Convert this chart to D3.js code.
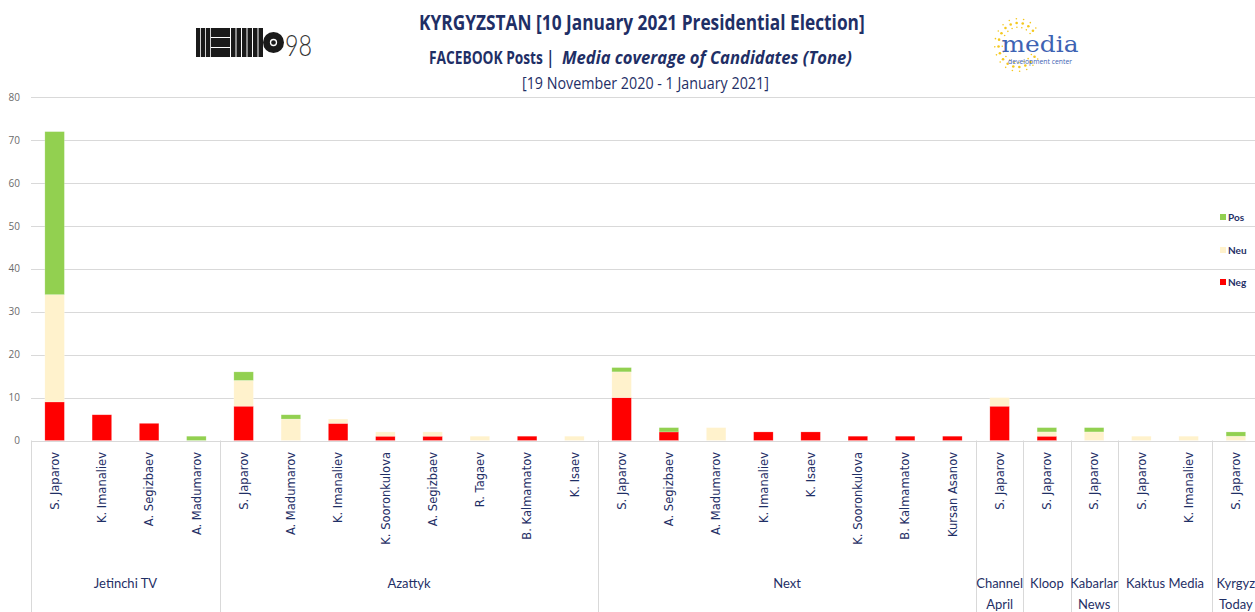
<!DOCTYPE html>
<html>
<head>
<meta charset="utf-8">
<script src="https://cdn.jsdelivr.net/npm/d3@7"></script>
<style>
  html, body { margin: 0; padding: 0; background: #fff; }
  svg { display: block; }
</style>
</head>
<body>
<div id="chart"></div>
<script>
// ---------------- DATA ----------------
const candidates = [
  "S. Japarov", "K. Imanaliev", "A. Segizbaev", "A. Madumarov",
  "S. Japarov", "A. Madumarov", "K. Imanaliev", "K. Sooronkulova", "A. Segizbaev", "R. Tagaev", "B. Kalmamatov", "K. Isaev",
  "S. Japarov", "A. Segizbaev", "A. Madumarov", "K. Imanaliev", "K. Isaev", "K. Sooronkulova", "B. Kalmamatov", "Kursan Asanov",
  "S. Japarov",
  "S. Japarov",
  "S. Japarov",
  "S. Japarov", "K. Imanaliev",
  "S. Japarov"
];
const outlets = [
  "Jetinchi TV","Jetinchi TV","Jetinchi TV","Jetinchi TV",
  "Azattyk","Azattyk","Azattyk","Azattyk","Azattyk","Azattyk","Azattyk","Azattyk",
  "Next","Next","Next","Next","Next","Next","Next","Next",
  "Channel April",
  "Kloop",
  "Kabarlar News",
  "Kaktus Media","Kaktus Media",
  "Kyrgyz Today"
];
const outletLabels = {
  "Jetinchi TV": ["Jetinchi TV"],
  "Azattyk": ["Azattyk"],
  "Next": ["Next"],
  "Channel April": ["Channel", "April"],
  "Kloop": ["Kloop"],
  "Kabarlar News": ["Kabarlar", "News"],
  "Kaktus Media": ["Kaktus Media"],
  "Kyrgyz Today": ["Kyrgyz", "Today"]
};
const neg = [9, 6, 4, 0,  8, 0, 4, 1, 1, 0, 1, 0,  10, 2, 0, 2, 2, 1, 1, 1,  8,  1,  0,  0, 0,  0];
const neu = [25, 0, 0, 0, 6, 5, 1, 1, 1, 1, 0, 1,  6, 0, 3, 0, 0, 0, 0, 0,   2,  1,  2,  1, 1,  1];
const pos = [38, 0, 0, 1, 2, 1, 0, 0, 0, 0, 0, 0,  1, 1, 0, 0, 0, 0, 0, 0,   0,  1,  1,  0, 0,  1];
const seriesNames = ["Neg", "Neu", "Pos"];
const yTicks = [0, 10, 20, 30, 40, 50, 60, 70, 80];
const titleLines = [
  "KYRGYZSTAN [10 January 2021 Presidential Election]",
  "FACEBOOK Posts |",
  "Media coverage of Candidates (Tone)",
  "[19 November 2020 - 1 January 2021]"
];

// ---------------- LAYOUT ----------------
const W = 1255, H = 612;
const colors = { Neg: "#FF0000", Neu: "#FFF2CC", Pos: "#92D050" };
const navy = "#1F2F66";

const svg = d3.select("#chart").append("svg")
  .attr("width", W).attr("height", H)
  .style("font-family", "'Open Sans', 'Noto Sans', sans-serif");

svg.append("rect").attr("width", W).attr("height", H).attr("fill", "#fff");

const x = d3.scaleBand()
  .domain(d3.range(candidates.length))
  .range([31, 1259.5])
  .paddingInner(0.587)
  .paddingOuter(0.2935);
const step = x.step();

const y = d3.scaleLinear().domain([0, 80]).range([440.5, 97.3]);

// gridlines
svg.append("g").selectAll("line").data(yTicks).join("line")
  .attr("x1", 31).attr("x2", W)
  .attr("y1", d => Math.round(y(d)) + 0.5).attr("y2", d => Math.round(y(d)) + 0.5)
  .attr("stroke", "#D9D9D9").attr("stroke-width", 1);

// y tick labels
svg.append("g").selectAll("text").data(yTicks).join("text")
  .attr("x", 20).attr("y", d => y(d)).attr("dy", "0.35em")
  .attr("text-anchor", "end")
  .attr("font-size", 10).attr("fill", "#6b6b6b")
  .text(d => d);

// stacked bars
const rows = candidates.map((c, i) => ({ i, Neg: neg[i], Neu: neu[i], Pos: pos[i] }));
const stack = d3.stack().keys(seriesNames)(rows);
svg.append("g").selectAll("g").data(stack).join("g")
  .attr("fill", d => colors[d.key])
  .selectAll("rect").data(d => d.filter(s => s[1] - s[0] > 0)).join("rect")
  .attr("x", d => x(d.data.i))
  .attr("width", x.bandwidth())
  .attr("y", d => y(d[1]))
  .attr("height", d => y(d[0]) - y(d[1]))
  .attr("stroke", "#fff").attr("stroke-opacity", 0.35).attr("stroke-width", 0.6);

// group separators
const groups = [];
outlets.forEach((o, i) => {
  if (!groups.length || groups[groups.length - 1].name !== o) groups.push({ name: o, start: i, end: i });
  else groups[groups.length - 1].end = i;
});
const sepXs = groups.map(g => x(g.start) - (step - x.bandwidth()) / 2);
svg.append("g").selectAll("line").data(sepXs).join("line")
  .attr("x1", d => Math.round(d) + 0.5).attr("x2", d => Math.round(d) + 0.5)
  .attr("y1", 440.5).attr("y2", H)
  .attr("stroke", "#D9D9D9").attr("stroke-width", 1);

// candidate labels (rotated)
svg.append("g").selectAll("text").data(candidates).join("text")
  .attr("transform", (d, i) => `translate(${x(i) + x.bandwidth() / 2},452) rotate(-90)`)
  .attr("text-anchor", "end").attr("dy", "0.36em")
  .attr("font-family", "'DejaVu Sans', sans-serif")
  .attr("font-size", 11.5).attr("fill", navy)
  .text(d => d);

// outlet labels
const gl = svg.append("g");
groups.forEach(g => {
  const cx = (x(g.start) + x(g.end) + x.bandwidth()) / 2;
  const lines = outletLabels[g.name];
  const t = gl.append("text").attr("text-anchor", "middle")
    .attr("font-family", "'Liberation Sans Narrow', 'Lato', sans-serif")
    .attr("font-size", 13).attr("fill", navy);
  lines.forEach((ln, k) => {
    t.append("tspan").attr("x", cx).attr("y", 588 + k * 21).text(ln);
  });
});

// legend
const legendItems = [["Pos", 217], ["Neu", 250], ["Neg", 282]];
const lg = svg.append("g");
legendItems.forEach(([k, ly]) => {
  lg.append("rect").attr("x", 1220).attr("y", ly - 3).attr("width", 6).attr("height", 6).attr("fill", colors[k]);
  lg.append("text").attr("x", 1228).attr("y", ly).attr("dy", "0.35em")
    .attr("font-family", "'Liberation Sans Narrow', 'Lato', sans-serif")
    .attr("font-size", 10).attr("font-weight", "bold").attr("fill", navy).text(k);
});

// helper: text squeezed horizontally to a target width via transform
function fitText(str, left, baseline, width, attrs) {
  const t = svg.append("text").attr("x", 0).attr("y", 0).attr("fill", navy);
  Object.entries(attrs).forEach(([k, v]) => t.attr(k, v));
  t.text(str);
  const nat = t.node().getComputedTextLength();
  const sx = width / nat;
  t.attr("transform", `translate(${left},${baseline}) scale(${sx},1)`);
  return t;
}

// titles
fitText(titleLines[0], 419, 30, 446, { "font-size": 22, "font-weight": "bold" });
fitText(titleLines[1], 429, 64, 125, { "font-size": 18, "font-weight": "bold" });
fitText(titleLines[2], 562, 64, 290, { "font-size": 18, "font-weight": "bold", "font-style": "italic" });
fitText(titleLines[3], 522, 89, 247, { "font-size": 17 });

// MEMO98 logo
const logo = svg.append("g").attr("fill", "#1a1a1a");
[196, 201, 206].forEach(bx => logo.append("rect").attr("x", bx).attr("y", 28).attr("width", 4.2).attr("height", 29));
[28, 38, 48].forEach(by => logo.append("rect").attr("x", 211).attr("y", by).attr("width", 19).attr("height", 9));
[231, 236.5, 242, 247.5, 253, 258.5].forEach(bx => logo.append("rect").attr("x", bx).attr("y", 28).attr("width", 4.5).attr("height", 29));
logo.append("circle").attr("cx", 273.5).attr("cy", 42.5).attr("r", 10.5);
logo.append("circle").attr("cx", 273.5).attr("cy", 42.5).attr("r", 3).attr("fill", "none").attr("stroke", "#fff").attr("stroke-width", 1.3);
svg.append("text").attr("x", 285).attr("y", 56).attr("font-size", 29).attr("font-weight", 300)
  .attr("font-family", "'Lato', sans-serif").attr("fill", "#333")
  .attr("textLength", 27).attr("lengthAdjust", "spacingAndGlyphs").text("98");

// media development center logo
const ml = svg.append("g");
const dots = [];
for (let a = 40; a <= 330; a += 18) {
  for (const r of [21, 26, 31]) {
    const ang = a * Math.PI / 180;
    dots.push([1022 + r * Math.cos(ang) * 0.75 - 4, 45 - r * Math.sin(ang) * 0.85, (r === 26 ? 1.3 : 0.8)]);
  }
}
ml.selectAll("circle").data(dots.filter(d => d[0] < 1040)).join("circle")
  .attr("cx", d => d[0]).attr("cy", d => d[1]).attr("r", d => d[2]).attr("fill", "#F4C81E");
ml.append("text").attr("x", 1040).attr("y", 52).attr("text-anchor", "middle")
  .attr("font-family", "'DejaVu Serif', 'Liberation Serif', serif").attr("font-size", 22)
  .attr("textLength", 77).attr("lengthAdjust", "spacingAndGlyphs")
  .attr("fill", "#3E63B3").text("media");
ml.append("text").attr("x", 1040).attr("y", 64).attr("text-anchor", "middle")
  .attr("font-size", 6.5).attr("fill", "#3E63B3")
  .attr("textLength", 64).attr("lengthAdjust", "spacingAndGlyphs")
  .text("development center");
</script>
</body>
</html>
